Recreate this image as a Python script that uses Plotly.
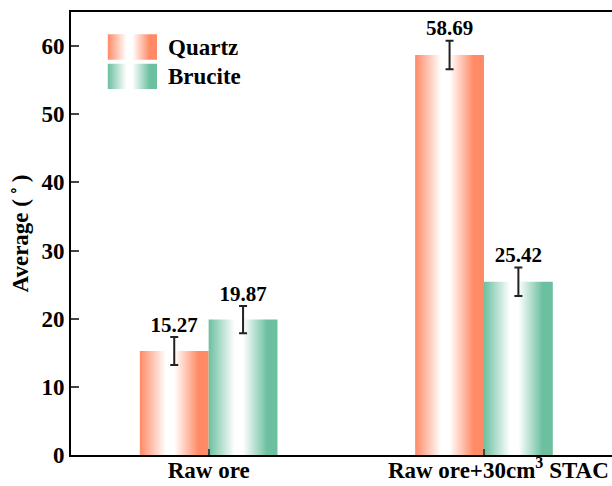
import plotly.graph_objects as go

categories = ["Raw ore", "\u00a0\u00a0\u00a0\u00a0\u00a0Raw ore+30cm<sup>3</sup> STAC"]
series_names = ["Quartz", "Brucite"]
quartz = [15.27, 58.69]
brucite = [19.87, 25.42]
quartz_err = [2.05, 2.1]
brucite_err = [2.0, 2.1]
colors = ["#FF8A66", "#6CC0A0"]

values = [quartz, brucite]
errors = [quartz_err, brucite_err]
bar_w = 0.25
offsets = [-0.125, 0.125]
FONT = "Times New Roman, Liberation Serif, serif"

# legend swatch placement (fractions of plot area)
leg_x = [0.068, 0.159]
leg_y = [[0.892, 0.950], [0.826, 0.883]]
leg_text_x = 0.176

fig = go.Figure()
for s, name in enumerate(series_names):
    c = colors[s]
    cs = [[0, c], [0.38, "white"], [0.5, "white"], [0.85, c], [1, c]]
    for i, v in enumerate(values[s]):
        xc = i + offsets[s]
        x0, x1 = xc - bar_w / 2, xc + bar_w / 2
        fig.add_trace(go.Scatter(
            x=[x0, x0, x1, x1, x0], y=[0, v, v, 0, 0],
            mode="lines", line=dict(width=0), fill="toself",
            fillgradient=dict(type="horizontal", colorscale=cs),
            fillcolor=c, name=name, showlegend=False, hoverinfo="skip"))
    xs = [i + offsets[s] for i in range(len(categories))]
    fig.add_trace(go.Scatter(
        x=xs, y=values[s], mode="markers",
        marker=dict(size=0.1, color="rgba(0,0,0,0)"),
        error_y=dict(type="data", array=errors[s], color="#222", thickness=2, width=4),
        showlegend=False, hoverinfo="skip"))
    fig.add_trace(go.Scatter(
        x=xs, y=[v + e for v, e in zip(values[s], errors[s])],
        mode="text", text=[f"{v:.2f}" for v in values[s]],
        textposition="top center",
        textfont=dict(family=FONT, size=21, color="black", weight="bold"),
        showlegend=False, hoverinfo="skip"))
    # legend swatch on overlay axis
    ly0, ly1 = leg_y[s]
    fig.add_trace(go.Scatter(
        x=[leg_x[0], leg_x[0], leg_x[1], leg_x[1], leg_x[0]],
        y=[ly0, ly1, ly1, ly0, ly0], xaxis="x2", yaxis="y2",
        mode="lines", line=dict(width=0), fill="toself",
        fillgradient=dict(type="horizontal", colorscale=cs),
        fillcolor=c, showlegend=False, hoverinfo="skip"))
    fig.add_annotation(x=leg_text_x, y=(ly0 + ly1) / 2, xref="x2", yref="y2",
                       text=name, showarrow=False, xanchor="left", yanchor="middle",
                       font=dict(family=FONT, size=23, color="black", weight="bold"))

fig.update_layout(
    width=612, height=486,
    margin=dict(l=71, r=0, t=12, b=31),
    paper_bgcolor="white", plot_bgcolor="white",
    font=dict(family=FONT, size=23, color="black", weight="bold"),
    showlegend=False,
    xaxis=dict(range=[-0.5, 1.465], tickvals=list(range(len(categories))),
               ticktext=categories, ticks="inside", ticklen=6, tickwidth=2,
               showline=True, linewidth=2, linecolor="black", mirror=True,
               showgrid=False, zeroline=False, automargin=False,
               ticklabelstandoff=-7,
               tickfont=dict(size=23, weight="bold")),
    yaxis=dict(range=[0, 65], dtick=10, ticks="inside", ticklen=8, tickwidth=2,
               showline=True, linewidth=2, linecolor="black",
               showgrid=False, zeroline=False, automargin=False,
               title=dict(text="Average (\u2009˚\u2009)", font=dict(size=23, weight="bold"), standoff=6),
               tickfont=dict(size=23, weight="bold")),
    xaxis2=dict(range=[0, 1], overlaying="x", visible=False),
    yaxis2=dict(range=[0, 1], overlaying="y", visible=False),
)

fig.write_html("out.html")
